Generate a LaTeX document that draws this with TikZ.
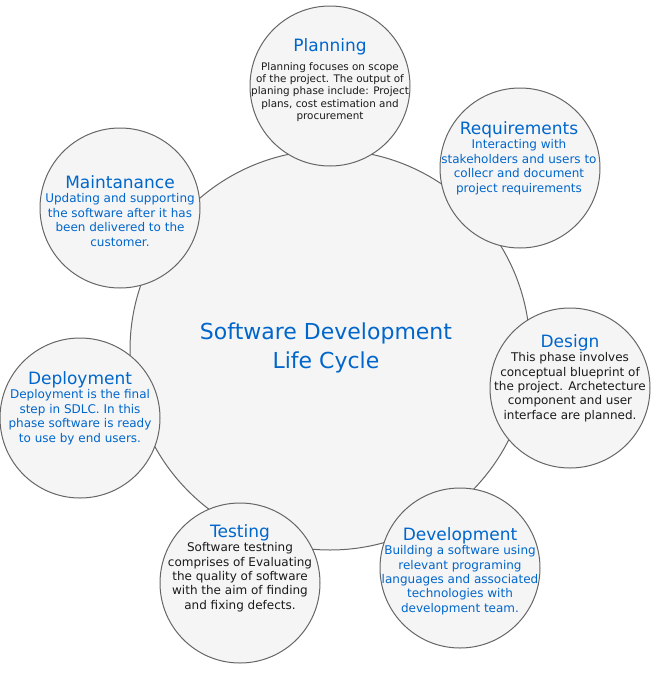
\documentclass[tikz,border=0pt]{standalone}
\usepackage{fontspec}
\setmainfont{DejaVu Sans}
\definecolor{phaseblue}{HTML}{0066CC}
\definecolor{bodydark}{HTML}{1A1A1A}
\definecolor{discfill}{HTML}{F5F5F5}
\definecolor{discline}{HTML}{666666}
\begin{document}
\begin{tikzpicture}[x=0.75pt,y=-0.75pt,
  disc/.style={circle,draw=discline,fill=discfill,line width=0.75pt,inner sep=0pt,minimum size=120pt},
  hub/.style={circle,draw=discline,fill=discfill,line width=0.75pt,inner sep=0pt,minimum size=300pt},
  phasetext/.style={align=center,inner sep=0pt,font=\fontsize{9pt}{10.8pt}\selectfont}]
\useasboundingbox (0,0) rectangle (651,693);

% central cycle
\node[hub] (sdlc) at (330,350) {};
\node[align=center,color=phaseblue,font=\fontsize{16.5pt}{22pt}\selectfont] (sdlctext) at (326,348)
  {Software Development\\Life Cycle};

% phase discs around the cycle
\node[disc] (plan) at (330,86) {};
\node[disc] (req) at (520,168) {};
\node[disc] (maint) at (120,208) {};
\node[disc] (design) at (570,388) {};
\node[disc] (deploy) at (80,418) {};
\node[disc] (test) at (240,583) {};
\node[disc] (dev) at (460,568) {};

% phase descriptions
\node[phasetext,color=bodydark,font=\fontsize{7.8pt}{9.3pt}\selectfont] (plantext) at (330,80)
  {{\color{phaseblue}\fontsize{12.75pt}{15pt}\selectfont Planning}\\[5pt]
   Planning focuses on scope\\of the project. The output of\\planing phase include: Project\\plans, cost estimation and\\procurement};
\node[phasetext,color=phaseblue] (reqtext) at (519,158)
  {{\fontsize{12.75pt}{15pt}\selectfont Requirements}\\
   Interacting with\\stakeholders and users to\\collecr and document\\project requirements};
\node[phasetext,color=phaseblue] (mainttext) at (120,211)
  {{\fontsize{12.75pt}{15pt}\selectfont Maintanance}\\
   Updating and supporting\\the software after it has\\been delivered to the\\customer.};
\node[phasetext,color=bodydark] (designtext) at (570,378)
  {{\color{phaseblue}\fontsize{12.75pt}{15pt}\selectfont Design}\\
   This phase involves\\conceptual blueprint of\\the project. Archetecture\\component and user\\interface are planned.};
\node[phasetext,color=phaseblue] (deploytext) at (80,408)
  {{\fontsize{12.75pt}{15pt}\selectfont Deployment}\\
   Deployment is the final\\step in SDLC. In this\\phase software is ready\\to use by end users.};
\node[phasetext,color=bodydark] (testtext) at (240,568)
  {{\color{phaseblue}\fontsize{12.75pt}{15pt}\selectfont Testing}\\
   Software testning\\comprises of Evaluating\\the quality of software\\with the aim of finding\\and fixing defects.};
\node[phasetext,color=phaseblue] (devtext) at (460,571)
  {{\fontsize{12.75pt}{15pt}\selectfont Development}\\
   Building a software using\\relevant programing\\languages and associated\\technologies with\\development team.};
\end{tikzpicture}
\end{document}
